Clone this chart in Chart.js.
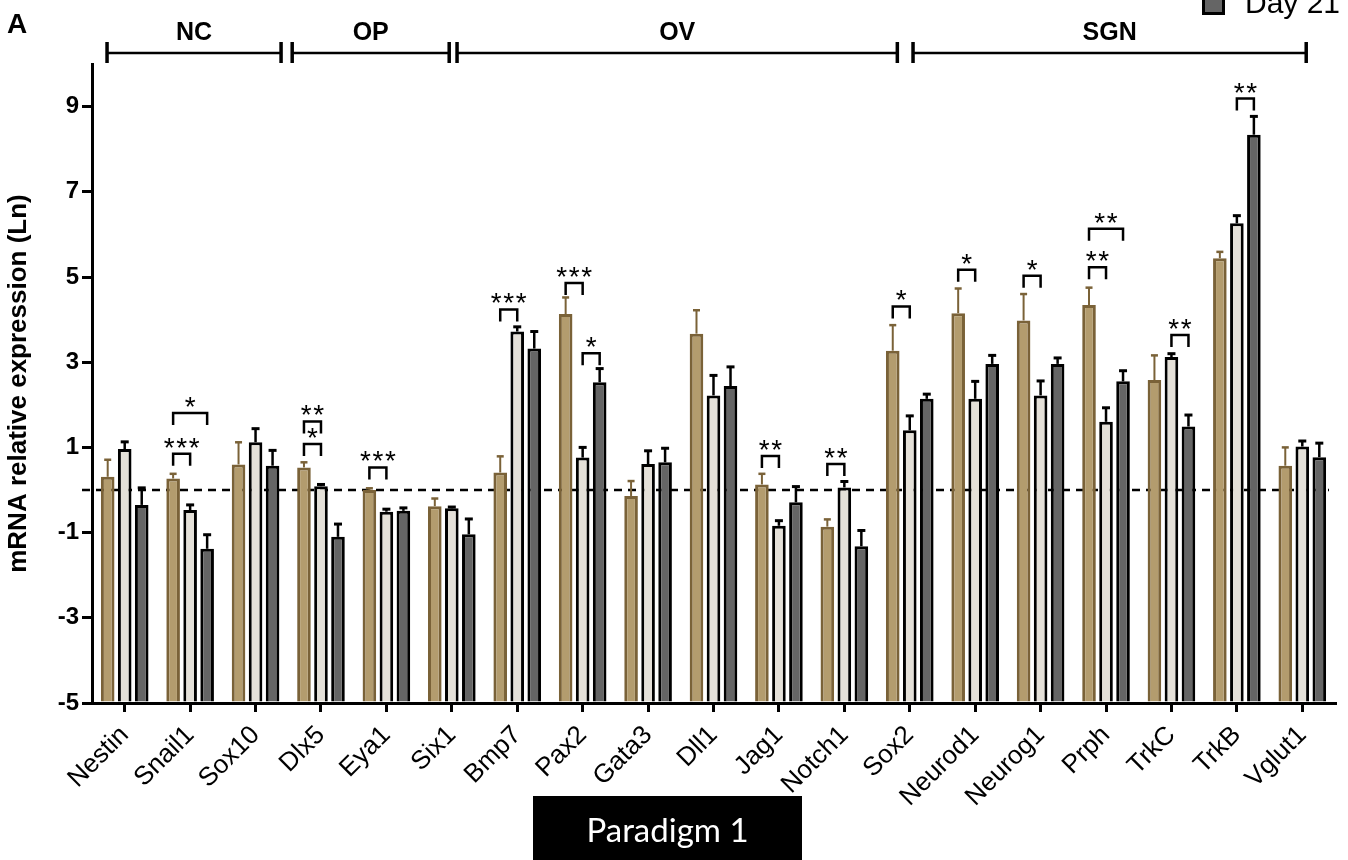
<!DOCTYPE html>
<html><head><meta charset="utf-8">
<script src="https://cdn.jsdelivr.net/npm/chart.js@4.4.0/dist/chart.umd.min.js"></script>
<style>html,body{margin:0;padding:0;background:#fff;}canvas{display:block;}</style>
</head><body>
<canvas id="c" width="1348" height="860"></canvas>
<script>
const categories = ['Nestin','Snail1','Sox10','Dlx5','Eya1','Six1','Bmp7','Pax2','Gata3','Dll1','Jag1','Notch1','Sox2','Neurod1','Neurog1','Prph','TrkC','TrkB','Vglut1'];
const seriesNames = ['Group 1','Group 2','Day 21'];
const tanValues   = [0.31,0.27,0.60,0.53,0.00,-0.38,0.41,4.13,-0.14,3.67,0.13,-0.86,3.27,4.15,3.98,4.34,2.58,5.44,0.57];
const tanErrors   = [0.40,0.11,0.52,0.12,0.04,0.18,0.38,0.39,0.35,0.55,0.25,0.17,0.60,0.58,0.62,0.41,0.58,0.15,0.43];
const lightValues = [0.96,-0.47,1.12,0.09,-0.51,-0.43,3.72,0.76,0.61,2.22,-0.84,0.06,1.40,2.14,2.22,1.60,3.12,6.26,1.02];
const lightErrors = [0.17,0.12,0.32,0.04,0.06,0.03,0.11,0.24,0.31,0.47,0.12,0.14,0.34,0.41,0.34,0.33,0.08,0.18,0.13];
const darkValues  = [-0.35,-1.38,0.57,-1.10,-0.49,-1.04,3.32,2.53,0.65,2.44,-0.29,-1.32,2.14,2.96,2.96,2.55,1.49,8.34,0.77];
const darkErrors  = [0.40,0.33,0.36,0.30,0.07,0.36,0.40,0.32,0.33,0.45,0.37,0.37,0.11,0.20,0.14,0.25,0.27,0.43,0.33];
const yTickValues = [-5,-3,-1,1,3,5,7,9];
const yMin = -5, yMax = 10;

const sigCategory = ['Snail1','Snail1','Dlx5','Dlx5','Eya1','Bmp7','Pax2','Pax2','Jag1','Notch1','Sox2','Neurod1','Neurog1','Prph','Prph','TrkC','TrkB'];
const sigFrom  = [0,0,0,0,0,0,0,1,0,0,0,0,0,0,0,1,1];
const sigTo    = [1,2,1,1,1,1,1,2,1,1,1,1,1,1,2,2,2];
const sigLevel = [0.85,1.81,1.08,1.61,0.53,4.24,4.86,3.21,0.80,0.61,4.31,5.17,5.03,5.23,6.13,3.64,9.19];
const sigLabel = ['***','*','*','**','***','***','***','*','**','**','*','*','*','**','**','**','**'];

const groupNames = ['NC','OP','OV','SGN'];
const groupStart = [-0.27,2.56,5.08,12.05];
const groupEnd   = [2.39,4.96,11.81,18.06];

const FONT = "'Liberation Sans', Arial, sans-serif";
const TAN = '#b39c6e', TAN_EDGE = '#7a6238', LIGHT = '#e4e0d8', DARK = '#656565';

const allErrors = [tanErrors, lightErrors, darkErrors];

const overlay = {
  id: 'overlay',
  beforeDatasetsDraw(chart) {
    const {ctx, chartArea, scales:{y}} = chart;
    const y0 = y.getPixelForValue(0);
    ctx.save();
    ctx.strokeStyle = '#000'; ctx.lineWidth = 2.5; ctx.setLineDash([8,6]);
    ctx.beginPath(); ctx.moveTo(chartArea.left - 10, y0); ctx.lineTo(chartArea.right - 6, y0); ctx.stroke();
    ctx.restore();
  },
  afterDatasetsDraw(chart) {
    const {ctx, scales:{x, y}} = chart;
    ctx.save();
    chart.data.datasets.forEach((ds, di) => {
      const meta = chart.getDatasetMeta(di);
      const errs = allErrors[di];
      meta.data.forEach((bar, i) => {
        const top = y.getPixelForValue(ds.data[i] + errs[i]);
        ctx.strokeStyle = di === 0 ? TAN_EDGE : '#000';
        ctx.lineWidth = di === 0 ? 2 : 2.5;
        ctx.beginPath(); ctx.moveTo(bar.x, bar.y); ctx.lineTo(bar.x, top); ctx.stroke();
        ctx.lineWidth = di === 0 ? 2.5 : 3;
        const hw = di === 0 ? 3.5 : 4;
        ctx.beginPath(); ctx.moveTo(bar.x - hw, top); ctx.lineTo(bar.x + hw, top); ctx.stroke();
      });
    });
    ctx.strokeStyle = '#000'; ctx.fillStyle = '#000'; ctx.lineWidth = 2.5;
    ctx.font = "28px " + FONT;
    const m = ctx.measureText('*');
    const cOff = (m.actualBoundingBoxAscent - m.actualBoundingBoxDescent) / 2;
    sigCategory.forEach((cat, k) => {
      const ci = categories.indexOf(cat);
      const x1 = chart.getDatasetMeta(sigFrom[k]).data[ci].x;
      const x2 = chart.getDatasetMeta(sigTo[k]).data[ci].x;
      const yy = y.getPixelForValue(sigLevel[k]);
      ctx.beginPath();
      ctx.moveTo(x1, yy + 12); ctx.lineTo(x1, yy); ctx.lineTo(x2, yy); ctx.lineTo(x2, yy + 12);
      ctx.stroke();
      const n = sigLabel[k].length, cx = (x1 + x2) / 2, sy = yy - 11;
      ctx.textAlign = 'center';
      for (let s = 0; s < n; s++) {
        ctx.fillText('*', cx + (s - (n - 1) / 2) * 12.5, sy + cOff);
      }
    });
    groupNames.forEach((g, k) => {
      const a = x.getPixelForValue(groupStart[k]);
      const b = x.getPixelForValue(groupEnd[k]);
      ctx.lineWidth = 2.7;
      ctx.beginPath(); ctx.moveTo(a, 53); ctx.lineTo(b, 53); ctx.stroke();
      ctx.lineWidth = 3.5;
      ctx.beginPath(); ctx.moveTo(a, 42); ctx.lineTo(a, 63); ctx.moveTo(b, 42); ctx.lineTo(b, 63); ctx.stroke();
      ctx.font = "bold 25px " + FONT; ctx.textAlign = 'center'; ctx.textBaseline = 'alphabetic';
      ctx.fillText(g, (a + b) / 2, 40);
    });
    ctx.textAlign = 'left';
    ctx.font = "bold 28px " + FONT;
    ctx.fillText('A', 7, 33);
    ctx.fillStyle = DARK; ctx.fillRect(1202, -8, 23, 23);
    ctx.lineWidth = 3; ctx.strokeStyle = '#000'; ctx.strokeRect(1203.5, -8, 20, 21.5);
    ctx.fillStyle = '#000'; ctx.font = "30px " + FONT;
    ctx.fillText(seriesNames[2], 1245, 13);
    ctx.fillStyle = '#000'; ctx.fillRect(533, 796, 269, 64);
    ctx.fillStyle = '#fff'; ctx.font = "33px Lato, 'Open Sans', sans-serif"; ctx.textAlign = 'center';
    ctx.fillText('Paradigm 1', 667.5, 842);
    ctx.restore();
  }
};

new Chart(document.getElementById('c'), {
  type: 'bar',
  data: {
    labels: categories,
    datasets: [
      {label: seriesNames[0], data: tanValues, backgroundColor: TAN, borderColor: TAN_EDGE, borderWidth: 3, base: yMin},
      {label: seriesNames[1], data: lightValues, backgroundColor: LIGHT, borderColor: '#000', borderWidth: 3, base: yMin},
      {label: seriesNames[2], data: darkValues, backgroundColor: DARK, borderColor: '#000', borderWidth: 3, base: yMin}
    ]
  },
  options: {
    responsive: false, animation: false, devicePixelRatio: 1,
    categoryPercentage: 0.78, barPercentage: 0.8,
    layout: {padding: {left: 0, right: 13, top: 64, bottom: 0}},
    plugins: {legend: {display: false}, tooltip: {enabled: false}},
    scales: {
      x: {
        grid: {offset: false, drawOnChartArea: false, drawTicks: true, tickLength: 9, lineWidth: 3, color: '#000'},
        border: {display: true, width: 3, color: '#000'},
        ticks: {minRotation: 45, maxRotation: 45, autoSkip: false, color: '#000', padding: 8, font: {family: FONT, size: 26}},
        afterFit(s) { s.height = 860 - 703; }
      },
      y: {
        min: yMin, max: yMax,
        afterBuildTicks(s) { s.ticks = yTickValues.map(v => ({value: v})); },
        grid: {drawOnChartArea: false, drawTicks: true, tickLength: 10, lineWidth: 3, color: '#000'},
        border: {display: true, width: 3, color: '#000'},
        ticks: {color: '#000', padding: 3, font: {family: FONT, size: 24, weight: 'bold'}},
        title: {display: true, text: 'mRNA relative expression (Ln)', color: '#000', font: {family: FONT, size: 26, weight: 'bold'}, padding: {top: 3, bottom: 0}},
        afterFit(s) { s.width = 92; }
      }
    }
  },
  plugins: [overlay]
});
</script>
</body></html>
